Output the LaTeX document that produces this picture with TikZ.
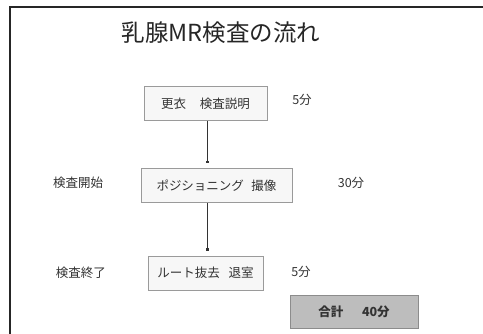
\documentclass[tikz,border=0pt]{standalone}
\usepackage{fontspec}
\setmainfont{Noto Sans CJK JP}
\usetikzlibrary{arrows.meta}
\definecolor{boxline}{HTML}{9A9A9A}
\definecolor{boxfill}{HTML}{F7F7F7}
\definecolor{totalfill}{HTML}{BDBDBD}
\definecolor{totalline}{HTML}{8C8C8C}
\definecolor{ink}{HTML}{333333}
\tikzset{
  stepbox/.style={draw=boxline, fill=boxfill, line width=0.8pt, inner sep=0pt, minimum height=34pt, font=\fontsize{12.5}{14}\selectfont, text=ink},
  totalbox/.style={draw=totalline, fill=totalfill, line width=0.8pt, inner sep=0pt, minimum width=128pt, minimum height=33pt, font=\fontsize{12.5}{14}\selectfont\bfseries, text=ink},
  lbl/.style={font=\fontsize{12.5}{14}\selectfont, text=ink, inner sep=0pt},
  flow/.style={draw=ink, line width=0.6pt, -{Square[length=2.2pt,width=2.2pt]}, shorten >=5pt},
}
\begin{document}
\begin{tikzpicture}[x=1pt,y=1pt]
\useasboundingbox (0,0) rectangle (483,334);
\fill[white] (0,0) rectangle (483,334);
% frame
\draw[line width=2pt, color=black!85] (10,0) -- (10,326.5) -- (483,326.5);
% title
\node[font=\fontsize{23.5}{26}\selectfont, text=black!85, inner sep=0pt] (title) at (221,301) {乳腺MR検査の流れ};
% boxes
\node[stepbox, minimum width=123pt] (b1) at (205.5,230.5) {更衣\hspace{1.1em}検査説明};
\node[stepbox, minimum width=151pt] (b2) at (216.5,148.5) {ポジショニング\hspace{0.6em}撮像};
\node[stepbox, minimum width=115pt] (b3) at (205.5,61) {ルート抜去\hspace{0.7em}退室};
\node[totalbox] (tot) at (354,22.5) {合計\hspace{1.5em}40分};
% side labels
\node[lbl] (t1) at (302,234) {5分};
\node[lbl] (t2) at (351,151) {30分};
\node[lbl] (t3) at (301,62) {5分};
\node[lbl] (s1) at (78,151) {検査開始};
\node[lbl] (s2) at (81,61) {検査終了};
% arrows
\draw[flow] (b1.south -| 207,0) -- (b2.north -| 207,0);
\draw[flow] (b2.south -| 207,0) -- (b3.north -| 207,0);
\end{tikzpicture}
\end{document}
